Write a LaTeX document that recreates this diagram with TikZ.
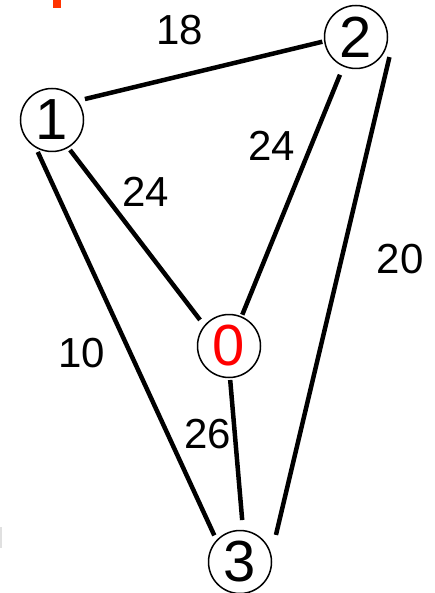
\documentclass[tikz,border=0pt]{standalone}
\usepackage{fontspec}
\setmainfont{Liberation Sans}
\usetikzlibrary{calc}
\definecolor{markred}{RGB}{255,51,0}
\begin{document}
\begin{tikzpicture}[x=1pt,y=-1pt,
  vert/.style={circle,draw=black,line width=1.5pt,minimum size=63pt,inner sep=0pt,font=\fontsize{58}{60}\selectfont},
  edge/.style={line width=4.5pt,black},
  wlab/.style={inner sep=0pt,font=\fontsize{42}{44}\selectfont}]
\useasboundingbox (0,0) rectangle (435,593);
\fill[markred] (53,0) rectangle (61,8);
\fill[black!12] (0,527) rectangle (1.5,548);
\node[vert] (n1) at (52,120) {1};
\node[vert] (n2) at (356,37) {2};
\node[vert] (n0) at (229,346) {\textcolor{red}{0}};
\node[vert] (n3) at (240,562) {3};
\draw[edge] ($(n1)+(32.5:39pt)$) -- ($(n2)+(188:34pt)$);
\draw[edge] ($(n1)+(-59:35pt)$) -- ($(n0)+(138:39pt)$);
\draw[edge] ($(n2)+(-113:41pt)$) -- ($(n0)+(67:34pt)$);
\draw[edge] ($(n2)+(-31:39pt)$) -- ($(n3)+(37:45pt)$);
\draw[edge] ($(n1)+(-114:35pt)$) -- ($(n3)+(134:37pt)$);
\draw[edge] ($(n0)+(-88:34pt)$) -- ($(n3)+(87:42pt)$);
\node[wlab] (l12) at (180,30) {18};
\node[wlab] (l10) at (146,192) {24};
\node[wlab] (l20) at (272,146) {24};
\node[wlab] (l23) at (400,259) {20};
\node[wlab] (l13) at (82,353) {10};
\node[wlab] (l03) at (208,434) {26};
\end{tikzpicture}
\end{document}
